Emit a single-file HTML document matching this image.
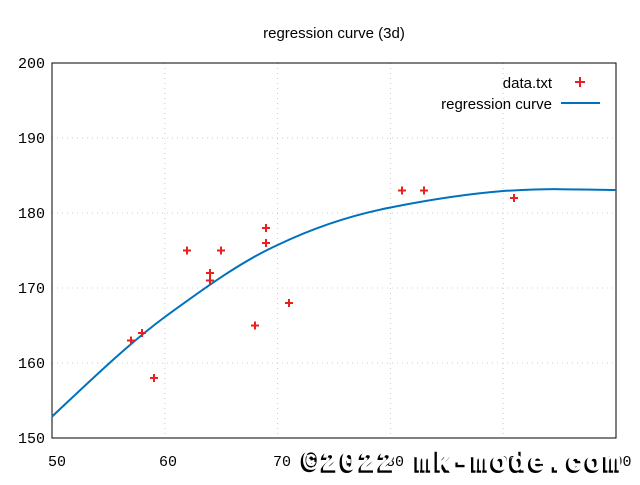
<!DOCTYPE html>
<html><head><meta charset="utf-8"><style>
body{margin:0;background:#fff;width:640px;height:480px;overflow:hidden}
</style></head><body>
<svg width="640" height="480" xmlns="http://www.w3.org/2000/svg" font-family="Liberation Sans, sans-serif">
<rect width="640" height="480" fill="#fff"/>
<g stroke="#ccc" stroke-dasharray="1,4" stroke-width="1">
<line x1="164.8" y1="63" x2="164.8" y2="438"/><line x1="277.6" y1="63" x2="277.6" y2="438"/>
<line x1="390.4" y1="63" x2="390.4" y2="438"/><line x1="503.2" y1="63" x2="503.2" y2="438"/>
<line x1="52" y1="363" x2="616" y2="363"/><line x1="52" y1="288" x2="616" y2="288"/>
<line x1="52" y1="213" x2="616" y2="213"/><line x1="52" y1="138" x2="616" y2="138"/>
</g>
<rect x="52" y="63" width="564" height="375" fill="none" stroke="#000" stroke-width="1"/>
<g font-family="Liberation Mono, monospace" font-size="15" fill="#000">
<g text-anchor="end"><text x="45" y="68">200</text><text x="45" y="143">190</text><text x="45" y="218">180</text><text x="45" y="293">170</text><text x="45" y="368">160</text><text x="45" y="443">150</text></g>
<g text-anchor="middle"><text x="57" y="466">50</text><text x="168" y="466">60</text><text x="282" y="466">70</text><text x="395" y="466">80</text><text x="508" y="466">90</text><text x="618" y="466">100</text></g>
</g>
<text x="334" y="38" font-size="15" text-anchor="middle">regression curve (3d)</text>
<text x="552" y="88" font-size="15" text-anchor="end">data.txt</text>
<text x="552" y="109" font-size="15" text-anchor="end">regression curve</text>
<line x1="561" y1="103" x2="600" y2="103" stroke="#0072bd" stroke-width="2"/>
<path d="M52,416.6 C90,381 127,345 164.8,317 C202,290 240,262 277.6,245 C315,227 352,215 390.4,207.5 C428,200 466,194 503.2,191 C530,189.5 545,189 560,189.2 C580,189.5 598,189.5 616,190" fill="none" stroke="#0072bd" stroke-width="2"/>
<g stroke="#e8201f" stroke-width="2">
<path d="M127,340.5h8M131,336.5v8"/>
<path d="M138,333h8M142,329v8"/>
<path d="M150,378h8M154,374v8"/>
<path d="M183,250.5h8M187,246.5v8"/>
<path d="M206,273h8M210,269v8"/>
<path d="M206,280.5h8M210,276.5v8"/>
<path d="M217,250.5h8M221,246.5v8"/>
<path d="M251,325.5h8M255,321.5v8"/>
<path d="M262,228h8M266,224v8"/>
<path d="M262,243h8M266,239v8"/>
<path d="M285,303h8M289,299v8"/>
<path d="M398,190.5h8M402,186.5v8"/>
<path d="M420,190.5h8M424,186.5v8"/>
<path d="M510,198h8M514,194v8"/>
<path d="M575,82h10M580,77v10"/>
</g>
<g font-family="Liberation Mono, monospace" font-size="27" font-weight="bold">
<text x="301" y="472" fill="#000" stroke="#000" stroke-width="1.5" textLength="318">©2022 mk-mode.com</text>
<text x="303" y="470" fill="#fff" stroke="#fff" stroke-width="0.8" textLength="318">©2022 mk-mode.com</text>
</g>
</svg>
</body></html>
